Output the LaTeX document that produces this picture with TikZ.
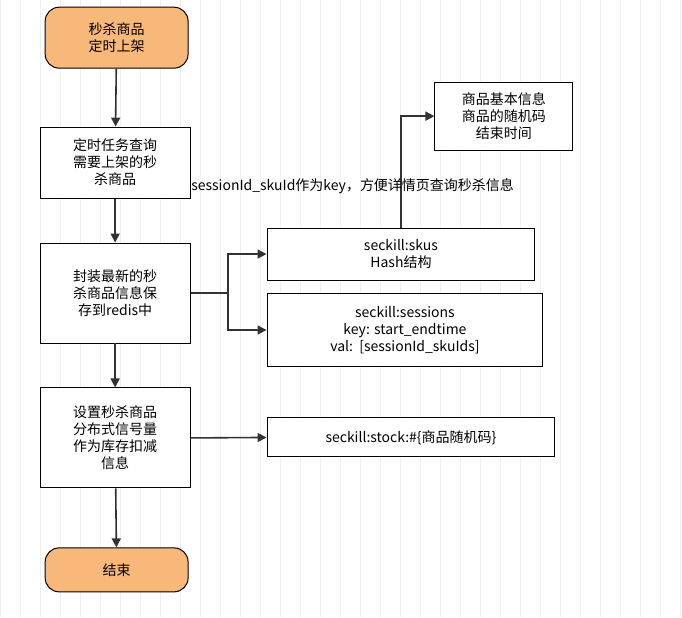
\documentclass[tikz,border=0pt]{standalone}
\usepackage{fontspec}
\setmainfont{Noto Sans CJK SC}
\usetikzlibrary{arrows.meta}
\definecolor{termc}{RGB}{248,184,122}
\begin{document}
\begin{tikzpicture}[x=1pt,y=-1pt,
  box/.style={draw=black,line width=1pt,fill=white,align=center,font=\fontsize{14}{17}\selectfont,inner sep=0pt},
  term/.style={box,fill=termc,rounded corners=14pt},
  arr/.style={-{Triangle[length=9pt,width=9pt]},line width=1.6pt,draw=black!80}]
\fill[white] (0,0) rectangle (682,617);
\draw[black!6,step=20] (0,0) grid (682,617);
\useasboundingbox (0,0) rectangle (682,617);
\node[term,minimum width=143,minimum height=61] (s) at (116.5,37.5) {秒杀商品\\定时上架};
\node[box,minimum width=150,minimum height=71] (a) at (115,162.5) {定时任务查询\\需要上架的秒\\杀商品};
\node[box,minimum width=150,minimum height=100] (b) at (115,293) {封装最新的秒\\杀商品信息保\\存到redis中};
\node[box,minimum width=150,minimum height=100] (c) at (115,438) {设置秒杀商品\\分布式信号量\\作为库存扣减\\信息};
\node[term,minimum width=143,minimum height=44] (e) at (116.5,570) {结束};
\node[box,minimum width=268,minimum height=52] (k) at (401,254) {seckill:skus\\Hash结构};
\node[box,minimum width=276,minimum height=74] (ss) at (405,330) {seckill:sessions\\key: start\_endtime\\val:\ \ [sessionId\_skuIds]};
\node[box,minimum width=288,minimum height=39] (st) at (411,437.5) {seckill:stock:\#\{商品随机码\}};
\node[box,minimum width=138,minimum height=68] (i) at (504,116) {商品基本信息\\商品的随机码\\结束时间};
\draw[arr] (s) -- (a);
\draw[arr] (a) -- (b);
\draw[arr] (b) -- (c);
\draw[arr] (c) -- (e);
\coordinate (j) at (228,293);
\draw[arr] (b.east) -- (j) |- (k.west);
\draw[arr] (j) |- (ss.west);
\draw[arr] (c.east) -- (st.west);
\draw[arr] (k.north) |- (i.west);
\node[font=\fontsize{14}{17}\selectfont,anchor=west,inner sep=1pt] (lab) at (190,186) {sessionId\_skuId作为key，方便详情页查询秒杀信息};
\end{tikzpicture}
\end{document}
